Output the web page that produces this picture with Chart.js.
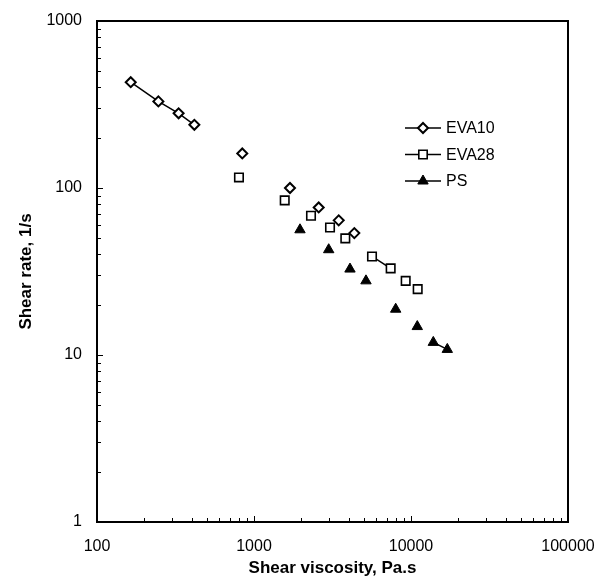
<!DOCTYPE html>
<html>
<head>
<meta charset="utf-8">
<script src="https://cdn.jsdelivr.net/npm/chart.js@4/dist/chart.umd.min.js"></script>
<style>
  body { margin: 0; background: #fff; }
  canvas { display: block; }
</style>
</head>
<body>
<canvas id="viscChart" width="598" height="580"></canvas>
<script>
// Values (x = shear viscosity, y = shear rate)
const eva10Visc = [164, 246, 331, 417, 842, 1695, 2583, 3464, 4355];
const eva10Rate = [430, 330, 280, 239, 161, 100, 76.5, 64, 53.7];
const eva10Links = [0, 1, 2]; // segments drawn with a line

const eva28Visc = [802, 1569, 2307, 3049, 3816, 5644, 7421, 9249, 11030];
const eva28Rate = [115.7, 84.3, 68.2, 58, 49.9, 38.9, 33, 27.8, 24.8];
const eva28Links = [5];

const psVisc = [1963, 2991, 4087, 5167, 7989, 10965, 13870, 17030];
const psRate = [56.2, 42.7, 32.7, 27.8, 18.8, 14.8, 11.9, 10.8];
const psLinks = [6];

const seriesNames = ['EVA10', 'EVA28', 'PS'];
const xTicks = [100, 1000, 10000, 100000];
const yTicks = [1, 10, 100, 1000];

const FONT = '"Liberation Sans", Arial, Helvetica, sans-serif';

function toPoints(xs, ys) {
  return xs.map((v, i) => ({ x: v, y: ys[i] }));
}

function segColor(links) {
  return ctx => links.includes(ctx.p0DataIndex) ? '#000' : 'rgba(0,0,0,0)';
}

// inward ticks, box frame and the legend
const frameAndLegend = {
  id: 'frameAndLegend',
  afterDraw(chart) {
    const { ctx, chartArea: a, scales: { x, y } } = chart;
    ctx.save();
    ctx.strokeStyle = '#000';
    ctx.lineWidth = 1;
    ctx.beginPath();
    xTicks.slice(0, -1).forEach(d => {
      for (let m = 1; m <= 9; m++) {
        const px = Math.round(x.getPixelForValue(d * m)) + 0.5;
        const len = m === 1 ? 6 : 4;
        ctx.moveTo(px, a.bottom);
        ctx.lineTo(px, a.bottom - len);
      }
    });
    yTicks.slice(0, -1).forEach(d => {
      for (let m = 1; m <= 9; m++) {
        const py = Math.round(y.getPixelForValue(d * m)) + 0.5;
        const len = m === 1 ? 6 : 4;
        ctx.moveTo(a.left, py);
        ctx.lineTo(a.left + len, py);
      }
    });
    ctx.stroke();

    ctx.lineWidth = 2;
    ctx.strokeRect(a.left, a.top, a.right - a.left, a.bottom - a.top);

    // legend
    const lx = 405, ly = 128, gap = 26.5;
    chart.data.datasets.forEach((ds, i) => {
      const yy = ly + i * gap;
      ctx.lineWidth = 1.5;
      ctx.strokeStyle = '#000';
      ctx.beginPath();
      ctx.moveTo(lx, yy);
      ctx.lineTo(lx + 36, yy);
      ctx.stroke();
      const cx = lx + 18;
      ctx.beginPath();
      if (ds.pointStyle === 'rectRot') {
        const r = 5;
        ctx.moveTo(cx - r, yy); ctx.lineTo(cx, yy - r);
        ctx.lineTo(cx + r, yy); ctx.lineTo(cx, yy + r);
        ctx.closePath();
      } else if (ds.pointStyle === 'rect') {
        const h = 4.2;
        ctx.rect(cx - h, yy - h, 2 * h, 2 * h);
      } else {
        const r = 6;
        ctx.moveTo(cx, yy - r);
        ctx.lineTo(cx + r * 0.866, yy + r / 2);
        ctx.lineTo(cx - r * 0.866, yy + r / 2);
        ctx.closePath();
      }
      ctx.fillStyle = ds.pointBackgroundColor;
      ctx.fill();
      ctx.lineWidth = ds.pointBorderWidth;
      ctx.stroke();
      ctx.fillStyle = '#000';
      ctx.font = '16px ' + FONT;
      ctx.textBaseline = 'middle';
      ctx.textAlign = 'left';
      ctx.fillText(ds.label, lx + 41, yy + 1);
    });
    ctx.restore();
  }
};

const canvas = document.getElementById('viscChart');
new Chart(canvas.getContext('2d'), {
  type: 'scatter',
  data: {
    datasets: [
      {
        label: seriesNames[0],
        data: toPoints(eva10Visc, eva10Rate),
        showLine: true,
        borderColor: '#000',
        borderWidth: 1.5,
        segment: { borderColor: segColor(eva10Links) },
        pointStyle: 'rectRot',
        pointRadius: 5,
        pointBorderWidth: 2,
        pointBorderColor: '#000',
        pointBackgroundColor: '#fff'
      },
      {
        label: seriesNames[1],
        data: toPoints(eva28Visc, eva28Rate),
        showLine: true,
        borderColor: '#000',
        borderWidth: 1.5,
        segment: { borderColor: segColor(eva28Links) },
        pointStyle: 'rect',
        pointRadius: 6,
        pointBorderWidth: 1.6,
        pointBorderColor: '#000',
        pointBackgroundColor: '#fff'
      },
      {
        label: seriesNames[2],
        data: toPoints(psVisc, psRate),
        showLine: true,
        borderColor: '#000',
        borderWidth: 1.5,
        segment: { borderColor: segColor(psLinks) },
        pointStyle: 'triangle',
        pointRadius: 6,
        pointBorderWidth: 1,
        pointBorderColor: '#000',
        pointBackgroundColor: '#000'
      }
    ]
  },
  options: {
    responsive: false,
    animation: false,
    layout: { padding: { left: 0, right: 30, top: 21, bottom: 0 } },
    plugins: {
      legend: { display: false },
      tooltip: { enabled: false }
    },
    scales: {
      x: {
        type: 'logarithmic',
        min: 100,
        max: 100000,
        afterBuildTicks: s => { s.ticks = xTicks.map(v => ({ value: v })); },
        afterFit: s => { s.height = 58; s.paddingLeft = 0; s.paddingRight = 0; },
        grid: { display: false, drawTicks: false },
        border: { display: true, color: '#000', width: 2 },
        ticks: {
          color: '#000',
          padding: 15,
          maxRotation: 0,
          autoSkip: false,
          font: { family: FONT, size: 16 },
          callback: v => String(v)
        },
        title: {
          display: true,
          text: 'Shear viscosity, Pa.s',
          color: '#000',
          padding: { top: 0, bottom: 1 },
          font: { family: FONT, size: 17, weight: 'bold' }
        }
      },
      y: {
        type: 'logarithmic',
        min: 1,
        max: 1000,
        afterBuildTicks: s => { s.ticks = yTicks.map(v => ({ value: v })); },
        afterFit: s => { s.width = 97; s.paddingTop = 0; s.paddingBottom = 0; },
        grid: { display: false, drawTicks: false },
        border: { display: true, color: '#000', width: 2 },
        ticks: {
          color: '#000',
          padding: 15,
          autoSkip: false,
          font: { family: FONT, size: 16 },
          callback: v => String(v)
        },
        title: {
          display: true,
          text: 'Shear rate, 1/s',
          color: '#000',
          padding: { top: 16, bottom: 0 },
          font: { family: FONT, size: 17, weight: 'bold' }
        }
      }
    }
  },
  plugins: [frameAndLegend]
});
</script>
</body>
</html>
